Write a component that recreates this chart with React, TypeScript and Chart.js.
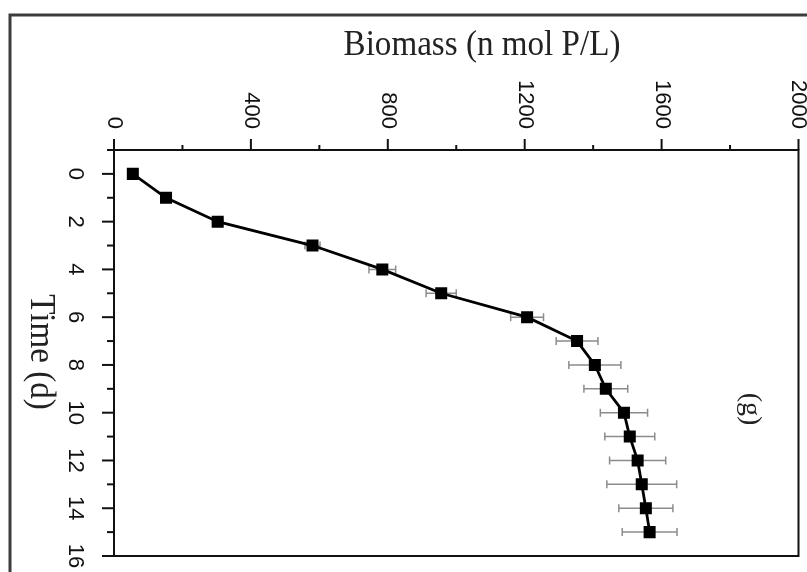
import React, { useEffect, useRef } from "react";
import { Chart, registerables } from "chart.js";

Chart.register(...registerables);

const timeDays = [0, 1, 2, 3, 4, 5, 6, 7, 8, 9, 10, 11, 12, 13, 14, 15];
const biomass = [55, 152, 303, 580, 784, 956, 1207, 1353, 1405, 1437, 1490, 1507, 1530, 1542, 1554, 1565];
const biomassErr = [5, 10, 15, 22, 39, 44, 48, 61, 76, 64, 69, 73, 82, 102, 79, 80];
const xTickValues = [0, 200, 400, 600, 800, 1000, 1200, 1400, 1600, 1800, 2000];
const xTickLabels = ["0", "", "400", "", "800", "", "1200", "", "1600", "", "2000"];
const yTickValues = [-1, 0, 1, 2, 3, 4, 5, 6, 7, 8, 9, 10, 11, 12, 13, 14, 15, 16];
const yTickLabels = ["", "0", "", "2", "", "4", "", "6", "", "8", "", "10", "", "12", "", "14", "", "16"];
const xTitle = "Biomass (n mol P/L)";
const yTitle = "Time (d)";
const panelLabel = "(g)";

const decorPlugin = {
  id: "decor",
  beforeDatasetsDraw(chart: any) {
    const ctx = chart.ctx;
    const xs = chart.scales.x;
    const ys = chart.scales.y;
    ctx.save();
    ctx.strokeStyle = "#8c8c8c";
    ctx.lineWidth = 1.5;
    for (let i = 0; i < biomass.length; i++) {
      const y = ys.getPixelForValue(timeDays[i]);
      const x1 = xs.getPixelForValue(biomass[i] - biomassErr[i]);
      const x2 = xs.getPixelForValue(biomass[i] + biomassErr[i]);
      ctx.beginPath();
      ctx.moveTo(x1, y);
      ctx.lineTo(x2, y);
      ctx.moveTo(x1, y - 4);
      ctx.lineTo(x1, y + 4);
      ctx.moveTo(x2, y - 4);
      ctx.lineTo(x2, y + 4);
      ctx.stroke();
    }
    ctx.restore();
  },
  afterDraw(chart: any) {
    const ctx = chart.ctx;
    const xs = chart.scales.x;
    const ys = chart.scales.y;
    const a = chart.chartArea;
    ctx.save();
    // outer frame
    ctx.strokeStyle = "#3c3c3c";
    ctx.lineWidth = 3;
    ctx.beginPath();
    ctx.moveTo(10, 572);
    ctx.lineTo(10, 15);
    ctx.lineTo(807, 15);
    ctx.stroke();
    // plot frame
    ctx.strokeStyle = "#111";
    ctx.lineWidth = 2;
    ctx.strokeRect(a.left, a.top, a.right - a.left, a.bottom - a.top);
    // top ticks
    ctx.lineWidth = 2;
    xTickValues.forEach((v, i) => {
      const x = xs.getPixelForValue(v);
      const len = xTickLabels[i] !== "" ? 11 : 5;
      ctx.beginPath();
      ctx.moveTo(x, a.top);
      ctx.lineTo(x, a.top - len);
      ctx.stroke();
    });
    // left ticks
    yTickValues.forEach((v, i) => {
      const y = ys.getPixelForValue(v);
      const len = yTickLabels[i] !== "" ? 12 : 7;
      ctx.beginPath();
      ctx.moveTo(a.left, y);
      ctx.lineTo(a.left - len, y);
      ctx.stroke();
    });
    // tick labels (rotated clockwise)
    ctx.fillStyle = "#111";
    ctx.font = "22px 'Liberation Sans', Arial, sans-serif";
    ctx.textBaseline = "middle";
    xTickValues.forEach((v, i) => {
      if (!xTickLabels[i]) return;
      const x = xs.getPixelForValue(v);
      ctx.save();
      ctx.translate(x, a.top - 21);
      ctx.rotate(Math.PI / 2);
      ctx.textAlign = "right";
      ctx.fillText(xTickLabels[i], 0, 0);
      ctx.restore();
    });
    yTickValues.forEach((v, i) => {
      if (!yTickLabels[i]) return;
      const y = ys.getPixelForValue(v);
      ctx.save();
      ctx.translate(75, y);
      ctx.rotate(Math.PI / 2);
      ctx.textAlign = "center";
      ctx.fillText(yTickLabels[i], 0, 0);
      ctx.restore();
    });
    // titles
    ctx.fillStyle = "#222";
    ctx.font = "36px 'Liberation Serif', 'Times New Roman', serif";
    ctx.textAlign = "center";
    ctx.textBaseline = "middle";
    ctx.save();
    ctx.translate(482, 46);
    ctx.scale(0.92, 1);
    ctx.fillText(xTitle, 0, 0);
    ctx.restore();
    ctx.save();
    ctx.translate(40, 352);
    ctx.rotate(Math.PI / 2);
    ctx.scale(0.92, 1);
    ctx.fillText(yTitle, 0, 0);
    ctx.restore();
    ctx.font = "28px 'Liberation Serif', 'Times New Roman', serif";
    ctx.save();
    ctx.translate(750, 409);
    ctx.rotate(Math.PI / 2);
    ctx.fillText(panelLabel, 0, 0);
    ctx.restore();
    ctx.restore();
  },
};

export default function App() {
  const canvasRef = useRef<HTMLCanvasElement | null>(null);
  useEffect(() => {
    const canvas = canvasRef.current;
    if (!canvas) return;
    const chart = new Chart(canvas, {
      type: "scatter",
      data: {
        datasets: [
          {
            data: biomass.map((b, i) => ({ x: b, y: timeDays[i] })),
            showLine: true,
            borderColor: "#000",
            borderWidth: 2.8,
            backgroundColor: "#000",
            pointStyle: "rect",
            pointRadius: 8.5,
            pointBorderWidth: 0,
            tension: 0,
          },
        ],
      },
      plugins: [decorPlugin],
      options: {
        animation: false,
        responsive: false,
        devicePixelRatio: 1,
        layout: { padding: { left: 114, top: 150, right: 6, bottom: 16 } },
        plugins: { legend: { display: false }, tooltip: { enabled: false } },
        scales: {
          x: { type: "linear", min: 0, max: 2000, display: false },
          y: { type: "linear", min: -1, max: 16, reverse: true, display: false },
        },
      },
    } as any);
    return () => chart.destroy();
  }, []);
  return (
    <div style={{ position: "absolute", left: 0, top: 0, width: 807, height: 572, background: "#fff" }}>
      <canvas ref={canvasRef} width={807} height={572} style={{ display: "block" }} />
    </div>
  );
}
